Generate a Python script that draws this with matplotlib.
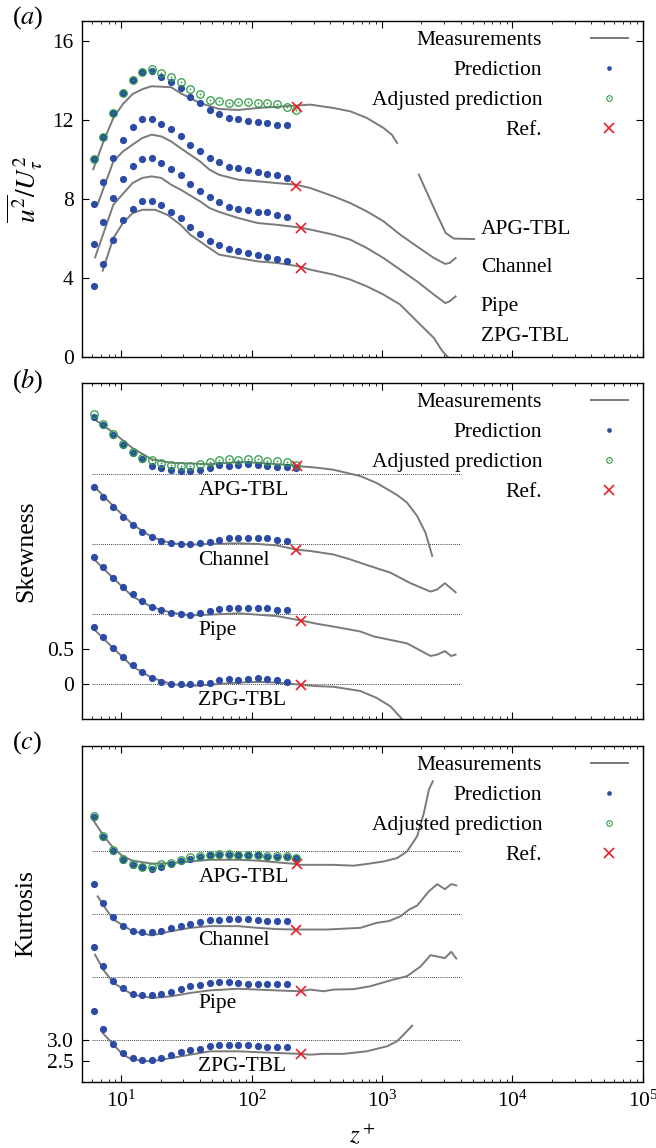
import numpy as np
import matplotlib
matplotlib.use('Agg')
import matplotlib.pyplot as plt
from matplotlib.lines import Line2D
from matplotlib.legend_handler import HandlerTuple

plt.rcParams['font.family'] = ['Liberation Serif', 'DejaVu Serif']
plt.rcParams['mathtext.fontset'] = 'stix'
plt.rcParams['font.size'] = 15.5

nan = np.nan
flows = ['APG-TBL', 'Channel', 'Pipe', 'ZPG-TBL']

# wall-normal positions of the predictions
z_pred = [6.2, 7.3, 8.7, 10.3, 12.2, 14.5, 17.1, 20.3, 24.1, 28.5, 33.8,
          40.1, 47.5, 56.3, 66.7, 79.1, 93.7, 111, 132, 156, 185, 219]

# ---------------- (a) variance ----------------
a_pred = {
    'APG-TBL': [10.0, 11.13, 12.36, 13.36, 14.01, 14.42, 14.45, 14.18, 13.93, 13.59, 13.15,
                12.87, 12.48, 12.31, 12.09, 12.02, 11.94, 11.89, 11.84, 11.75, 11.72],
    'Channel': [7.74, 8.84, 10.07, 11.0, 11.64, 12.04, 12.06, 11.8, 11.53, 11.18, 10.74,
                10.4, 10.07, 9.85, 9.63, 9.56, 9.44, 9.34, 9.27, 9.19, 9.07],
    'Pipe': [5.72, 6.83, 8.04, 9.0, 9.65, 10.03, 10.08, 9.8, 9.53, 9.21, 8.75,
             8.41, 8.08, 7.84, 7.61, 7.5, 7.44, 7.34, 7.32, 7.2, 7.1],
    'ZPG-TBL': [3.61, 4.72, 5.94, 6.91, 7.5, 7.91, 7.91, 7.67, 7.34, 7.05, 6.58,
                6.24, 5.89, 5.68, 5.45, 5.36, 5.26, 5.18, 5.08, 4.96, 4.84],
}
a_adj = [10.02, 11.13, 12.36, 13.36, 14.01, 14.42, 14.59, 14.38, 14.17, 13.91, 13.54,
         13.32, 13.02, 12.95, 12.83, 12.88, 12.88, 12.85, 12.85, 12.82, 12.66, 12.51]
a_meas_z = {
    'APG-TBL': [6.1, 7.3, 8.7, 10.3, 12.2, 14.5, 17.1, 24.1, 28.5, 33.8, 40.1, 56.3, 79.1,
                111, 156, 219, 281, 424, 570, 762, 1025, 1188, 1303, nan, 1914, 2497, 3070,
                3557, 5070],
    'Channel': [6.6, 8.7, 10.3, 12.2, 14.5, 17.1, 20.3, 24.1, 28.5, 40.1, 47.5, 56.3, 79.1,
                111, 156, 219, 281, 424, 570, 762, 1025, 1378, 1850, 2497, 3055, 3300, 3664],
    'Pipe': [6.3, 8.7, 12.2, 14.5, 17.1, 20.3, 24.1, 28.5, 40.1, 47.5, 56.3, 79.1, 111,
             156, 230, 281, 424, 570, 762, 1025, 1378, 1850, 2497, 3055, 3300, 3664],
    'ZPG-TBL': [7.2, 8.7, 10.3, 12.2, 14.5, 18.2, 22.5, 28.5, 33.8, 40.1, 47.5, 56.3, 79.1,
                111, 156, 230, 281, 424, 570, 762, 1025, 1378, 1850, 2497, 2900, 3200],
}
a_meas = {
    'APG-TBL': [9.5, 10.9, 12.1, 12.8, 13.3, 13.55, 13.7, 13.65, 13.35, 13.1, 12.85, 12.55,
                12.5, 12.6, 12.66, 12.72, 12.77, 12.6, 12.43, 12.1, 11.59, 11.25, 10.83, nan,
                9.23, 7.54, 6.28, 5.99, 5.97],
    'Channel': [7.74, 9.9, 10.4, 10.74, 11.08, 11.25, 11.16, 10.91, 10.57, 9.9, 9.48, 9.22,
                8.97, 8.89, 8.8, 8.72, 8.55, 8.13, 7.79, 7.37, 6.87, 6.19, 5.6, 5.01, 4.71,
                4.76, 5.01],
    'Pipe': [5.04, 7.71, 8.8, 9.06, 9.14, 9.06, 8.72, 8.47, 7.88, 7.54, 7.34, 7.03, 6.78,
             6.69, 6.56, 6.45, 6.19, 5.94, 5.52, 5.01, 4.42, 3.83, 3.16, 2.73, 2.82, 3.07],
    'ZPG-TBL': [4.37, 6.02, 6.78, 7.28, 7.45, 7.45, 7.2, 6.69, 6.19, 5.85, 5.51, 5.18, 5.01,
                4.84, 4.76, 4.59, 4.42, 4.17, 3.92, 3.58, 3.16, 2.65, 1.81, 0.96, 0.3, 0.0],
}

# ---------------- (b) skewness (shifted by 1 per flow) ----------------
b_pred = {
    'APG-TBL': [3.82, 3.70, 3.56, 3.42, 3.30, 3.22, 3.12, 3.08, 3.06, 3.04, 3.04,
                3.06, 3.08, 3.13, 3.12, 3.13, 3.14, 3.13, 3.12, 3.10, 3.10, 3.08],
    'Channel': [2.81, 2.67, 2.53, 2.39, 2.27, 2.17, 2.10, 2.04, 2.01, 2.0, 2.0,
                2.01, 2.03, 2.06, 2.09, 2.08, 2.09, 2.09, 2.09, 2.06, 2.04],
    'Pipe': [1.81, 1.67, 1.52, 1.39, 1.28, 1.18, 1.10, 1.05, 1.01, 1.0, 0.99,
             1.01, 1.04, 1.07, 1.09, 1.08, 1.08, 1.08, 1.08, 1.05, 1.05],
    'ZPG-TBL': [0.81, 0.67, 0.52, 0.39, 0.27, 0.17, 0.09, 0.03, 0.0, 0.0, 0.0,
                0.01, 0.01, 0.05, 0.07, 0.06, 0.07, 0.08, 0.07, 0.05, 0.03],
}
b_adj = [3.85, 3.71, 3.57, 3.43, 3.31, 3.23, 3.20, 3.15, 3.13, 3.12, 3.12,
         3.14, 3.17, 3.20, 3.21, 3.20, 3.21, 3.21, 3.19, 3.18, 3.17, 3.13]
b_meas_z = {
    'APG-TBL': [6.05, 8.7, 12.2, 17.1, 24.1, 33.8, 47.5, 79.1, 111, 156, 219, 235, 316,
                424, 681, 912, 1303, 1555, 1857, 2153, 2424],
    'Channel': [6.6, 8.7, 12.2, 17.1, 24.1, 33.8, 47.5, 79.1, 111, 156, 219, 281, 424,
                570, 762, 1160, 1650, 2353, 2650, 3030, 3664],
    'Pipe': [6.2, 8.7, 12.2, 17.1, 24.1, 33.8, 47.5, 79.1, 111, 156, 235, 316, 424, 681,
             861, 1555, 2353, 2650, 3030, 3390, 3664],
    'ZPG-TBL': [6.2, 8.7, 12.2, 17.1, 24.1, 33.8, 47.5, 79.1, 111, 156, 235, 316, 424,
                681, 912, 1160, 1422, 1700],
}
b_meas = {
    'APG-TBL': [3.8, 3.59, 3.37, 3.21, 3.16, 3.15, 3.14, 3.17, 3.16, 3.14, 3.12, 3.11,
                3.09, 3.06, 2.97, 2.87, 2.7, 2.59, 2.4, 2.16, 1.83],
    'Channel': [2.77, 2.54, 2.28, 2.1, 2.01, 1.99, 2.0, 2.01, 2.0, 1.98, 1.92, 1.9, 1.85,
                1.78, 1.7, 1.59, 1.44, 1.32, 1.35, 1.44, 1.31],
    'Pipe': [1.78, 1.51, 1.25, 1.1, 1.02, 0.98, 0.99, 1.01, 0.99, 0.97, 0.91, 0.86, 0.82,
             0.75, 0.68, 0.58, 0.4, 0.42, 0.47, 0.4, 0.42],
    'ZPG-TBL': [0.78, 0.51, 0.25, 0.09, 0.0, -0.03, -0.01, 0.02, 0.03, 0.02, -0.01, -0.03,
                -0.04, -0.1, -0.2, -0.32, -0.5, -0.7],
}

# ---------------- (c) kurtosis (shifted by 1.5 per flow) ----------------
c_pred = {
    'APG-TBL': [8.30, 7.83, 7.51, 7.29, 7.17, 7.13, 7.08, 7.13, 7.18, 7.25, 7.32,
                7.36, 7.40, 7.40, 7.41, 7.40, 7.40, 7.40, 7.36, 7.36, 7.36, 7.33],
    'Channel': [6.71, 6.25, 5.93, 5.71, 5.60, 5.56, 5.56, 5.60, 5.66, 5.72, 5.77,
                5.80, 5.85, 5.85, 5.88, 5.87, 5.88, 5.85, 5.83, 5.83, 5.83],
    'Pipe': [5.21, 4.76, 4.41, 4.23, 4.10, 4.06, 4.06, 4.10, 4.14, 4.22, 4.28,
             4.32, 4.36, 4.37, 4.39, 4.36, 4.34, 4.34, 4.33, 4.33, 4.33],
    'ZPG-TBL': [3.68, 3.25, 2.90, 2.69, 2.57, 2.53, 2.53, 2.57, 2.65, 2.71, 2.77,
                2.79, 2.85, 2.87, 2.89, 2.87, 2.87, 2.85, 2.83, 2.83, 2.83],
}
c_adj = [8.34, 7.85, 7.52, 7.30, 7.18, 7.13, 7.11, 7.19, 7.21, 7.29, 7.35,
         7.37, 7.40, 7.43, 7.43, 7.41, 7.41, 7.41, 7.38, 7.37, 7.37, 7.34]
c_meas_z = {
    'APG-TBL': [6.05, 7.3, 8.7, 10.3, 12.2, 17.1, 24.1, 33.8, 47.5, 79.1, 111, 156, 219,
                235, 316, 424, 605, 762, 1025, 1303, 1555, 1857, 2090, 2286, 2450],
    'Channel': [6.6, 7.5, 8.7, 12.2, 17.1, 24.1, 33.8, 47.5, 79.1, 111, 156, 219, 378, 681,
                912, 1125, 1378, 1603, 1857, 2286, 2650, 3030, 3390, 3706],
    'Pipe': [6.3, 7.3, 8.7, 12.2, 17.1, 24.1, 33.8, 47.5, 79.1, 111, 156, 235, 281, 356,
             424, 605, 813, 1227, 1555, 1972, 2353, 3030, 3390, 3706],
    'ZPG-TBL': [7.2, 8.7, 10.3, 12.2, 17.1, 24.1, 33.8, 47.5, 79.1, 111, 156, 235, 281,
                356, 507, 762, 1092, 1303, 1466, 1700],
}
c_meas = {
    'APG-TBL': [8.25, 7.87, 7.57, 7.37, 7.27, 7.2, 7.21, 7.25, 7.29, 7.29, 7.27, 7.23,
                7.19, 7.17, 7.17, 7.17, 7.15, 7.19, 7.25, 7.33, 7.49, 7.85, 8.4, 8.96, 9.16],
    'Channel': [6.42, 6.15, 5.87, 5.59, 5.49, 5.59, 5.67, 5.71, 5.71, 5.67, 5.64, 5.63,
                5.63, 5.67, 5.79, 5.83, 5.94, 6.1, 6.2, 6.54, 6.71, 6.59, 6.71, 6.68],
    'Pipe': [5.03, 4.67, 4.36, 4.08, 4.0, 4.04, 4.12, 4.18, 4.22, 4.2, 4.18, 4.16, 4.2,
             4.16, 4.2, 4.21, 4.28, 4.44, 4.52, 4.75, 5.02, 4.95, 5.1, 4.94],
    'ZPG-TBL': [3.17, 2.89, 2.65, 2.53, 2.49, 2.57, 2.65, 2.73, 2.73, 2.71, 2.69, 2.67,
                2.65, 2.67, 2.67, 2.73, 2.85, 2.97, 3.13, 3.34],
}

# reference points (z+, value) per panel
ref_z = {'APG-TBL': 224, 'Channel': 219, 'Pipe': 240, 'ZPG-TBL': 240}
a_ref = {'APG-TBL': 12.63, 'Channel': 8.66, 'Pipe': 6.53, 'ZPG-TBL': 4.5}
b_ref = {'APG-TBL': 3.11, 'Channel': 1.92, 'Pipe': 0.9, 'ZPG-TBL': -0.01}
c_ref = {'APG-TBL': 7.18, 'Channel': 5.63, 'Pipe': 4.16, 'ZPG-TBL': 2.67}

b_offsets = [3, 2, 1, 0]
c_offsets = [7.5, 6, 4.5, 3.0]

GREY = '#7a7a7a'
BLUE = '#2b4ba6'
GREEN = '#2e9e45'
RED = '#e8202a'
FS = 15.5


def draw_panel(ax, pred, adj, meas_z, meas, ref):
    for f in flows:
        ax.plot(meas_z[f], meas[f], color=GREY, lw=1.4, zorder=2)
        n = len(pred[f])
        ax.plot(z_pred[:n], pred[f], 'o', color=BLUE, ms=5.2, mec='none', zorder=3)
        ax.plot(ref_z[f], ref[f], 'x', color=RED, ms=7, mew=1.2, zorder=5)
    n = len(adj)
    ax.plot(z_pred[:n], adj, 'o', mfc='none', mec=GREEN, ms=5.4, mew=0.9, zorder=4)
    ax.plot(z_pred[:n], adj, 'o', color=GREEN, ms=1.3, mec='none', zorder=4)


def style_axis(ax):
    ax.set_xscale('log')
    ax.set_xlim(5, 1e5)
    ax.tick_params(which='both', direction='in', top=True, right=True, labelsize=FS)
    ax.tick_params(which='major', length=5, width=0.8, pad=6)
    ax.tick_params(which='minor', length=2.5, width=0.6)
    for s in ax.spines.values():
        s.set_linewidth(1.0)


def add_legend(ax):
    h_meas = Line2D([], [], color=GREY, lw=1.4)
    h_pred = Line2D([], [], ls='none', marker='o', color=BLUE, ms=3.4, mec='none')
    h_adj1 = Line2D([], [], ls='none', marker='o', mfc='none', mec=GREEN, ms=4.0, mew=0.8)
    h_adj2 = Line2D([], [], ls='none', marker='o', color=GREEN, ms=1.0, mec='none')
    h_ref = Line2D([], [], ls='none', marker='x', color=RED, ms=7, mew=1.2)
    leg = ax.legend([h_meas, h_pred, (h_adj1, h_adj2), h_ref],
                    ['Measurements', 'Prediction', 'Adjusted prediction', 'Ref.'],
                    loc='upper right', bbox_to_anchor=(1 - 4 / 561, 1 + 2 / 336),
                    frameon=False, markerfirst=False,
                    handlelength=1.72, handletextpad=2.25, labelspacing=0.46,
                    borderaxespad=0.4, borderpad=0.12, fontsize=FS,
                    handler_map={tuple: HandlerTuple(ndivide=1, pad=0)})
    # right-align the legend text
    for col in leg._legend_box._children[1]._children:
        col.align = 'right'
    return leg


fig = plt.figure(figsize=(6.56, 11.48), dpi=100)
L, W, H = 0.125, 0.855, 0.2927
ax_a = fig.add_axes([L, 0.689, W, H])
ax_b = fig.add_axes([L, 0.3737, W, H])
ax_c = fig.add_axes([L, 0.0575, W, H])

# (a)
draw_panel(ax_a, a_pred, a_adj, a_meas_z, a_meas, a_ref)
style_axis(ax_a)
ax_a.set_ylim(0, 17)
ax_a.set_yticks([0, 4, 8, 12, 16])
ax_a.set_xticklabels([])
ax_a.set_ylabel(r'$\overline{u^2}/U_\tau^2$', fontsize=19.5)
ax_a.yaxis.set_label_coords(-0.066, 0.5)
for f, y in zip(flows, [6.46, 4.54, 2.57, 1.05]):
    ax_a.text(5700, y, f, ha='left', va='center', fontsize=FS)
add_legend(ax_a)

# (b)
for o in b_offsets:
    ax_b.plot([6, 4000], [o, o], ls=(0, (1, 1.5)), color='black', lw=0.6, zorder=1)
draw_panel(ax_b, b_pred, b_adj, b_meas_z, b_meas, b_ref)
style_axis(ax_b)
ax_b.set_ylim(-0.5, 4.3)
ax_b.set_yticks([0, 0.5])
ax_b.set_yticklabels(['0', '0.5'])
ax_b.set_xticklabels([])
ax_b.set_ylabel('Skewness', fontsize=18.5)
ax_b.yaxis.set_label_coords(-0.08, 0.5)
for f, o in zip(flows, b_offsets):
    ax_b.text(39, o - 0.23, f, ha='left', va='center', fontsize=FS)
add_legend(ax_b)

# (c)
for o in c_offsets:
    ax_c.plot([6, 4000], [o, o], ls=(0, (1, 1.5)), color='black', lw=0.6, zorder=1)
draw_panel(ax_c, c_pred, c_adj, c_meas_z, c_meas, c_ref)
style_axis(ax_c)
ax_c.set_ylim(2, 10)
ax_c.set_yticks([2.5, 3.0])
ax_c.set_yticklabels(['2.5', '3.0'])
ax_c.set_ylabel('Kurtosis', fontsize=18.5)
ax_c.yaxis.set_label_coords(-0.08, 0.5)
ax_c.set_xlabel(r'$z^+$', fontsize=18, labelpad=8)
for f, o in zip(flows, c_offsets):
    ax_c.text(39, o - 0.64, f, ha='left', va='center', fontsize=FS)
add_legend(ax_c)

# panel letters, placed in figure pixels near the top-left of each panel
for ax, lab in zip([ax_a, ax_b, ax_c], ['a', 'b', 'c']):
    top = ax.get_position().y1
    fig.text(12 / 656, top + 17 / 1148, '(' + r'$' + lab + '$' + ')',
             ha='left', va='top', fontsize=19)

fig.savefig('out.png', dpi=100)
